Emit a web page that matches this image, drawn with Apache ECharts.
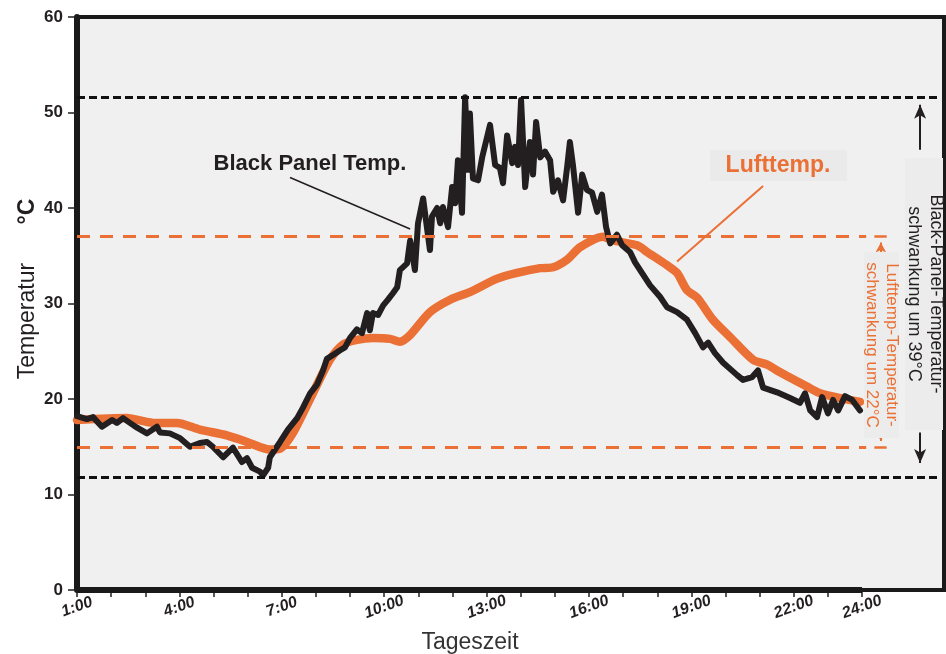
<!DOCTYPE html>
<html><head><meta charset="utf-8">
<script src="https://cdn.jsdelivr.net/npm/echarts@6/dist/echarts.min.js"></script>
<style>html,body{margin:0;padding:0;background:#fff}#c{width:946px;height:654px}</style>
</head><body><div id="c"></div>
<script>
// ---- data ----
const hoursLuft = [1.00, 2.46, 3.23, 3.93, 4.60, 5.39, 5.98, 6.65, 6.95, 7.35, 7.91, 8.41, 8.79, 9.20, 9.67, 10.17, 10.46, 10.76, 11.34, 11.93, 12.51, 13.31, 13.89, 14.57, 14.95, 15.36, 15.74, 16.41, 16.70, 17.41, 17.70, 18.29, 18.58, 18.87, 19.17, 19.63, 20.13, 20.81, 21.22, 21.60, 22.39, 22.77, 23.36, 23.94];
const tempsLuft = [17.8, 18.0, 17.5, 17.5, 16.8, 16.2, 15.5, 14.7, 14.8, 16.6, 20.6, 24.1, 25.7, 26.2, 26.4, 26.3, 26.0, 26.7, 29.1, 30.4, 31.2, 32.6, 33.2, 33.7, 33.8, 34.6, 35.9, 37.0, 36.6, 36.1, 35.4, 34.0, 33.2, 31.4, 30.6, 28.3, 26.5, 24.1, 23.6, 22.8, 21.3, 20.6, 20.1, 19.7];

const hoursBlack = [1.00,1.29,1.47,1.73,2.03,2.17,2.35,2.55,2.76,3.05,3.34,3.43,3.72,4.02,4.31,4.60,4.81,4.98,5.28,5.57,5.83,5.98,6.13,6.36,6.45,6.60,6.65,6.95,7.18,7.45,7.62,7.83,8.03,8.21,8.32,8.50,8.71,8.85,9.00,9.20,9.35,9.50,9.58,9.67,9.82,9.97,10.11,10.26,10.38,10.46,10.67,10.76,10.90,10.99,11.14,11.25,11.34,11.40,11.55,11.64,11.72,11.87,11.99,12.08,12.16,12.28,12.37,12.46,12.51,12.60,12.75,12.87,13.10,13.25,13.39,13.48,13.60,13.75,13.83,13.92,14.01,14.13,14.27,14.36,14.45,14.57,14.71,14.86,14.95,15.09,15.24,15.36,15.44,15.53,15.68,15.80,15.94,16.09,16.24,16.38,16.50,16.62,16.82,16.97,17.20,17.35,17.55,17.79,18.08,18.29,18.58,18.87,19.11,19.34,19.49,19.69,19.93,20.34,20.51,20.78,20.95,21.10,21.51,21.89,22.18,22.33,22.48,22.68,22.83,23.00,23.15,23.30,23.50,23.71,23.94];
const tempsBlack = [18.2,17.9,18.1,17.1,17.8,17.5,18.0,17.5,17.0,16.4,17.1,16.5,16.4,15.9,15.0,15.4,15.5,15.0,13.9,14.9,13.4,13.8,12.8,12.4,12.0,12.8,13.9,15.5,16.8,18.0,19.1,20.6,21.5,23.0,24.2,24.6,25.1,25.4,26.4,27.3,26.9,29.0,27.2,29.0,28.8,29.8,30.4,31.1,31.7,33.5,34.2,36.6,33.5,38.4,41.0,38.0,35.6,39.1,40.0,38.4,40.1,38.0,42.2,40.5,45.0,39.5,51.6,44.0,49.9,43.1,42.9,45.3,48.7,44.5,44.2,42.6,47.6,44.7,46.4,44.5,51.3,42.2,46.9,43.5,49.0,45.3,45.9,45.0,41.7,42.9,40.8,44.3,46.9,44.5,39.5,43.5,41.9,41.6,39.6,41.4,38.0,36.3,37.2,36.1,35.4,34.3,33.2,31.9,30.7,29.6,29.1,28.3,26.9,25.4,25.9,24.8,23.8,22.5,22.0,22.3,23.0,21.2,20.7,20.1,19.6,20.6,18.8,18.1,20.2,18.5,19.9,18.8,20.3,19.9,18.8];

const xTickValues = [1,2,3,4,5,6,7,8,9,10,11,12,13,14,15,16,17,18,19,20,21,22,23,24];
const xLabelValues = [1,4,7,10,13,16,19,22,24];
const blackRange = [11.8, 51.6];   // black panel min / max
const luftRange = [15.0, 37.0];    // air temp min / max
const seriesNames = ['Lufttemp.', 'Black Panel Temp.'];

// ---- styling ----
const ORANGE = '#ea7035';
const DARK = '#231f20';
const FONT = "'Liberation Sans', Arial, Helvetica, sans-serif";
const X_MIN = 1, X_MAX = 26.40;

const zip = (a, b) => a.map((v, i) => [v, b[i]]);

const chart = echarts.init(document.getElementById('c'));
chart.setOption({
  animation: false,
  backgroundColor: '#ffffff',
  grid: {
    left: 77, right: 2, top: 17, bottom: 64,
    show: true, backgroundColor: '#f0f0f0',
    borderColor: '#1a1a1a', borderWidth: 4
  },
  xAxis: {
    type: 'value', min: X_MIN, max: X_MAX,
    axisLine: { show: false },
    splitLine: { show: false },
    axisTick: { show: true, customValues: xTickValues, length: 7, lineStyle: { color: DARK, width: 1.5 } },
    axisLabel: {
      customValues: xLabelValues,
      formatter: v => v + ':00',
      rotate: 20, align: 'center', verticalAlign: 'middle', margin: 17,
      fontFamily: FONT, fontWeight: 'bold', fontStyle: 'italic', fontSize: 16, color: DARK
    }
  },
  yAxis: {
    type: 'value', min: 0, max: 60, interval: 10,
    axisLine: { show: true, lineStyle: { color: '#1a1a1a', width: 6 } },
    axisTick: { show: true, length: 9, lineStyle: { color: DARK, width: 1.5 } },
    splitLine: { show: false },
    axisLabel: { fontFamily: FONT, fontWeight: 'bold', fontSize: 17, color: DARK, margin: 14 }
  },
  series: [
    {
      name: seriesNames[0], type: 'line', data: zip(hoursLuft, tempsLuft),
      showSymbol: false, smooth: 0.25, z: 2,
      lineStyle: { color: ORANGE, width: 8.5, join: 'round', cap: 'round' }
    },
    {
      name: seriesNames[1], type: 'line', data: zip(hoursBlack, tempsBlack),
      showSymbol: false, smooth: false, z: 3,
      lineStyle: { color: DARK, width: 6, join: 'round', cap: 'round' }
    },
    {
      type: 'line', data: [], z: 5, silent: true,
      markLine: {
        silent: true, symbol: 'none', animation: false,
        label: { show: false },
        data: [
          [{ coord: [X_MIN, blackRange[1]], lineStyle: { color: '#111', width: 3, type: [8, 4] } }, { coord: [26.3, blackRange[1]] }],
          [{ coord: [X_MIN, blackRange[0]], lineStyle: { color: '#111', width: 3, type: [8, 4] } }, { coord: [26.3, blackRange[0]] }],
          [{ coord: [X_MIN, luftRange[1]], lineStyle: { color: ORANGE, width: 3, type: [13, 10] } }, { coord: [24.12, luftRange[1]] }],
          [{ coord: [X_MIN, luftRange[0]], lineStyle: { color: ORANGE, width: 3, type: [13, 10] } }, { coord: [24.12, luftRange[0]] }],
          [{ coord: [1, 0], lineStyle: { color: '#1a1a1a', width: 6, type: 'solid' } }, { coord: [24, 0] }],
          [{ coord: [7.24, 43.2], lineStyle: { color: DARK, width: 1.5, type: 'solid' } }, { coord: [10.76, 37.8] }],
          [{ coord: [21.1, 42.3], lineStyle: { color: ORANGE, width: 2, type: 'solid' } }, { coord: [18.58, 34.4] }],
          [{ coord: [25.70, 46.1], symbol: 'none', lineStyle: { color: DARK, width: 2, type: 'solid' } },
           { coord: [25.70, 50.8], symbol: 'arrow', symbolSize: [9, 14] }],
          [{ coord: [25.70, 16.5], symbol: 'none', lineStyle: { color: DARK, width: 2, type: 'solid' } },
           { coord: [25.70, 13.3], symbol: 'arrow', symbolSize: [9, 14] }],
          [{ coord: [24.55, 35.2], symbol: 'none', lineStyle: { color: ORANGE, width: 2, type: 'solid' } },
           { coord: [24.55, 36.4], symbol: 'arrow', symbolSize: [8, 10] }],
          [{ coord: [24.55, 16.4], symbol: 'none', lineStyle: { color: ORANGE, width: 2, type: 'solid' } },
           { coord: [24.55, 15.6], symbol: 'arrow', symbolSize: [8, 10] }],
          [{ coord: [24.36, luftRange[1]], lineStyle: { color: ORANGE, width: 2.5, type: 'solid' } }, { coord: [24.72, luftRange[1]] }],
          [{ coord: [24.36, luftRange[0]], lineStyle: { color: ORANGE, width: 2.5, type: 'solid' } }, { coord: [24.72, luftRange[0]] }]
        ]
      }
    }
  ],
  graphic: [
    { type: 'text', x: 28, y: 289, rotation: Math.PI / 2, z: 10,
      style: { text: '{a|Temperatur}{s|      }{b|°C}', textAlign: 'center', textVerticalAlign: 'middle', fill: DARK,
        rich: { a: { fontFamily: FONT, fontSize: 23, fill: DARK }, s: { fontFamily: FONT, fontSize: 23 }, b: { fontFamily: FONT, fontSize: 23, fontWeight: 'bold', fill: DARK } } } },
    { type: 'text', x: 470, y: 643, z: 10,
      style: { text: 'Tageszeit', font: '23px ' + FONT, fill: '#333', textAlign: 'center', textVerticalAlign: 'middle' } },
    { type: 'text', x: 310, y: 164, z: 10,
      style: { text: seriesNames[1], font: 'bold 22px ' + FONT, fill: DARK, textAlign: 'center', textVerticalAlign: 'middle' } },
    { type: 'rect', shape: { x: 710, y: 150, width: 137, height: 31 }, z: 9, style: { fill: '#eaeaea' } },
    { type: 'text', x: 778, y: 166, z: 10,
      style: { text: seriesNames[0], font: 'bold 23px ' + FONT, fill: ORANGE, textAlign: 'center', textVerticalAlign: 'middle' } },
    { type: 'rect', shape: { x: 905, y: 158, width: 38, height: 272 }, z: 9, style: { fill: '#ececec' } },
    { type: 'text', x: 925, y: 294, rotation: -Math.PI / 2, z: 10,
      style: { text: 'Black-Panel-Temperatur-\nschwankung um 39°C', font: '18px ' + FONT, lineHeight: 22, fill: DARK, textAlign: 'center', textVerticalAlign: 'middle' } },
    { type: 'rect', shape: { x: 864, y: 252, width: 35, height: 186 }, z: 9, style: { fill: '#ececec' } },
    { type: 'text', x: 882, y: 345, rotation: -Math.PI / 2, z: 10,
      style: { text: 'Lufttemp-Temperatur-\nschwankung um 22°C', font: '17px ' + FONT, lineHeight: 20, fill: ORANGE, textAlign: 'center', textVerticalAlign: 'middle' } }
  ]
});
</script>
</body></html>
